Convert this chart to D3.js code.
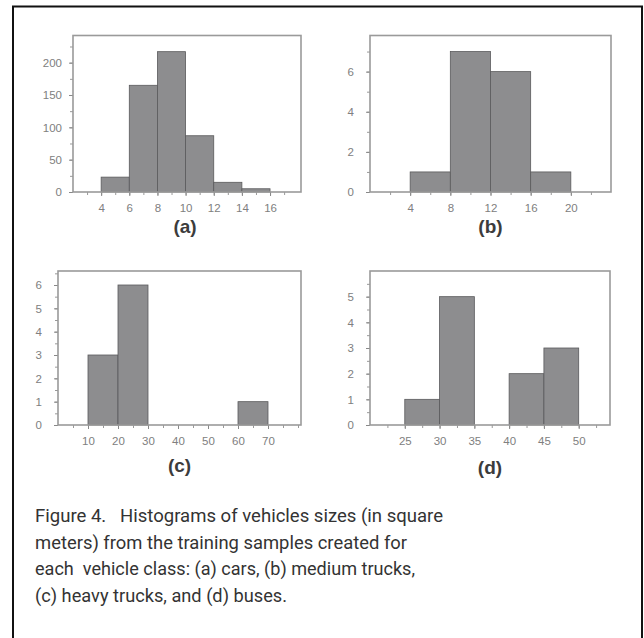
<!DOCTYPE html>
<html>
<head>
<meta charset="utf-8">
<script src="https://cdn.jsdelivr.net/npm/d3@7"></script>
<style>
  body { margin: 0; background: #fff; }
  svg { display: block; }
  .tick text { fill: #808080; font-family: "Liberation Sans", Arial, sans-serif; font-size: 11.5px; }
  .caption { font-family: "Liberation Sans Narrow", "Roboto", "Noto Sans", sans-serif; fill: #333; }
</style>
</head>
<body>
<div id="graph"></div>
<script>
// (a) cars
const carsEdges = [4, 6, 8, 10, 12, 14, 16];
const carsCounts = [23, 165, 217, 87, 15, 5];
// (b) medium trucks
const mediumEdges = [4, 8, 12, 16, 20];
const mediumCounts = [1, 7, 6, 1];
// (c) heavy trucks
const heavyEdges = [10, 20, 30, 40, 50, 60, 70];
const heavyCounts = [3, 6, 0, 0, 0, 1];
// (d) buses
const busEdges = [25, 30, 35, 40, 45, 50];
const busCounts = [1, 5, 0, 2, 3];

const captionLines = [
  "Figure 4.\u00a0\u00a0\u00a0Histograms of vehicles sizes (in square",
  "meters) from the training samples created for",
  "each\u00a0 vehicle class: (a) cars, (b) medium trucks,",
  "(c) heavy trucks, and (d) buses."
];

const width = 644, height = 638;
const svg = d3.select("#graph").append("svg").attr("width", width).attr("height", height);

// outer frame of the figure
svg.append("rect").attr("x", 13).attr("y", 6.5).attr("width", 629).attr("height", 640)
   .attr("fill", "none").attr("stroke", "#111").attr("stroke-width", 2);

const panels = [
  {edges: carsEdges, counts: carsCounts, label: "(a)", labelDy: 41,
   x: [73, 301], y: [192, 35.5], xd: [2, 18.2], yd: [0, 242],
   xTicks: d3.range(4, 17, 2), xMinor: d3.range(3, 18, 1), yTicks: d3.range(0, 201, 50), yMinor: d3.range(0, 241, 25), pad: 7},
  {edges: mediumEdges, counts: mediumCounts, label: "(b)", labelDy: 41,
   x: [370, 611], y: [192, 35.5], xd: [0, 24], yd: [0, 7.8],
   xTicks: d3.range(4, 21, 4), xMinor: d3.range(2, 24, 2), yTicks: d3.range(0, 7, 2), yMinor: d3.range(0, 8, 1), pad: 12},
  {edges: heavyEdges, counts: heavyCounts, label: "(c)", labelDy: 47,
   x: [58, 301], y: [425, 271], xd: [0, 81], yd: [0, 6.6],
   xTicks: d3.range(10, 71, 10), xMinor: d3.range(5, 81, 5), yTicks: d3.range(0, 7, 1), yMinor: d3.range(0, 6.6, 0.5), pad: 12},
  {edges: busEdges, counts: busCounts, label: "(d)", labelDy: 49,
   x: [370, 610], y: [425, 271], xd: [20, 54.5], yd: [0, 6],
   xTicks: d3.range(25, 51, 5), xMinor: d3.range(22.5, 54, 2.5), yTicks: d3.range(0, 6, 1), yMinor: d3.range(0, 6, 0.5), pad: 12}
];

panels.forEach(p => {
  const xScale = d3.scaleLinear().domain(p.xd).range(p.x);
  const yScale = d3.scaleLinear().domain(p.yd).range(p.y);
  const g = svg.append("g");

  // bars
  const bins = p.counts.map((c, i) => ({x0: p.edges[i], x1: p.edges[i + 1], n: c})).filter(b => b.n > 0);
  g.selectAll("rect.bar").data(bins).join("rect")
   .attr("class", "bar")
   .attr("x", d => xScale(d.x0))
   .attr("y", d => yScale(d.n))
   .attr("width", d => xScale(d.x1) - xScale(d.x0))
   .attr("height", d => yScale(0) - yScale(d.n))
   .attr("fill", "#8d8d8f")
   .attr("stroke", "#5a5a5c")
   .attr("stroke-width", 0.8);

  // minor ticks
  const bottomMinor = d3.axisBottom(xScale).tickValues(p.xMinor).tickSize(3).tickFormat("");
  const leftMinor = d3.axisLeft(yScale).tickValues(p.yMinor).tickSize(3).tickFormat("");
  const bm = g.append("g").attr("transform", `translate(0,${p.y[0]})`).call(bottomMinor);
  const lm = g.append("g").attr("transform", `translate(${p.x[0]},0)`).call(leftMinor);
  [bm, lm].forEach(a => { a.select(".domain").remove(); a.selectAll("line").attr("stroke", "#999"); });

  // labelled axes
  const bottomAxis = d3.axisBottom(xScale).tickValues(p.xTicks).tickSize(4).tickPadding(8).tickFormat(d3.format("d"));
  const leftAxis = d3.axisLeft(yScale).tickValues(p.yTicks).tickSize(4).tickPadding(p.pad).tickFormat(d3.format("d"));
  const ba = g.append("g").attr("transform", `translate(0,${p.y[0]})`).call(bottomAxis);
  const la = g.append("g").attr("transform", `translate(${p.x[0]},0)`).call(leftAxis);
  [ba, la].forEach(a => { a.select(".domain").remove(); a.selectAll("line").attr("stroke", "#888"); });

  // plot frame
  g.append("rect")
   .attr("x", p.x[0]).attr("y", p.y[1])
   .attr("width", p.x[1] - p.x[0]).attr("height", p.y[0] - p.y[1])
   .attr("fill", "none").attr("stroke", "#9a9a9a").attr("stroke-width", 1.6);

  // panel label
  g.append("text")
   .attr("x", (p.x[0] + p.x[1]) / 2 + (p.label === "(a)" ? -2 : 0))
   .attr("y", p.y[0] + p.labelDy)
   .attr("text-anchor", "middle")
   .attr("font-family", "Liberation Sans, Arial, sans-serif")
   .attr("font-weight", "bold")
   .attr("font-size", 19)
   .attr("fill", "#3c3c3c")
   .text(p.label);
});

// caption
const capWidths = [408, 372, 380, 252];
svg.selectAll("text.caption").data(captionLines).join("text")
   .attr("class", "caption")
   .attr("x", 35)
   .attr("y", (d, i) => 522 + i * 26.6)
   .attr("font-size", 18.5)
   .attr("textLength", (d, i) => capWidths[i])
   .attr("lengthAdjust", "spacingAndGlyphs")
   .text(d => d);
</script>
</body>
</html>
